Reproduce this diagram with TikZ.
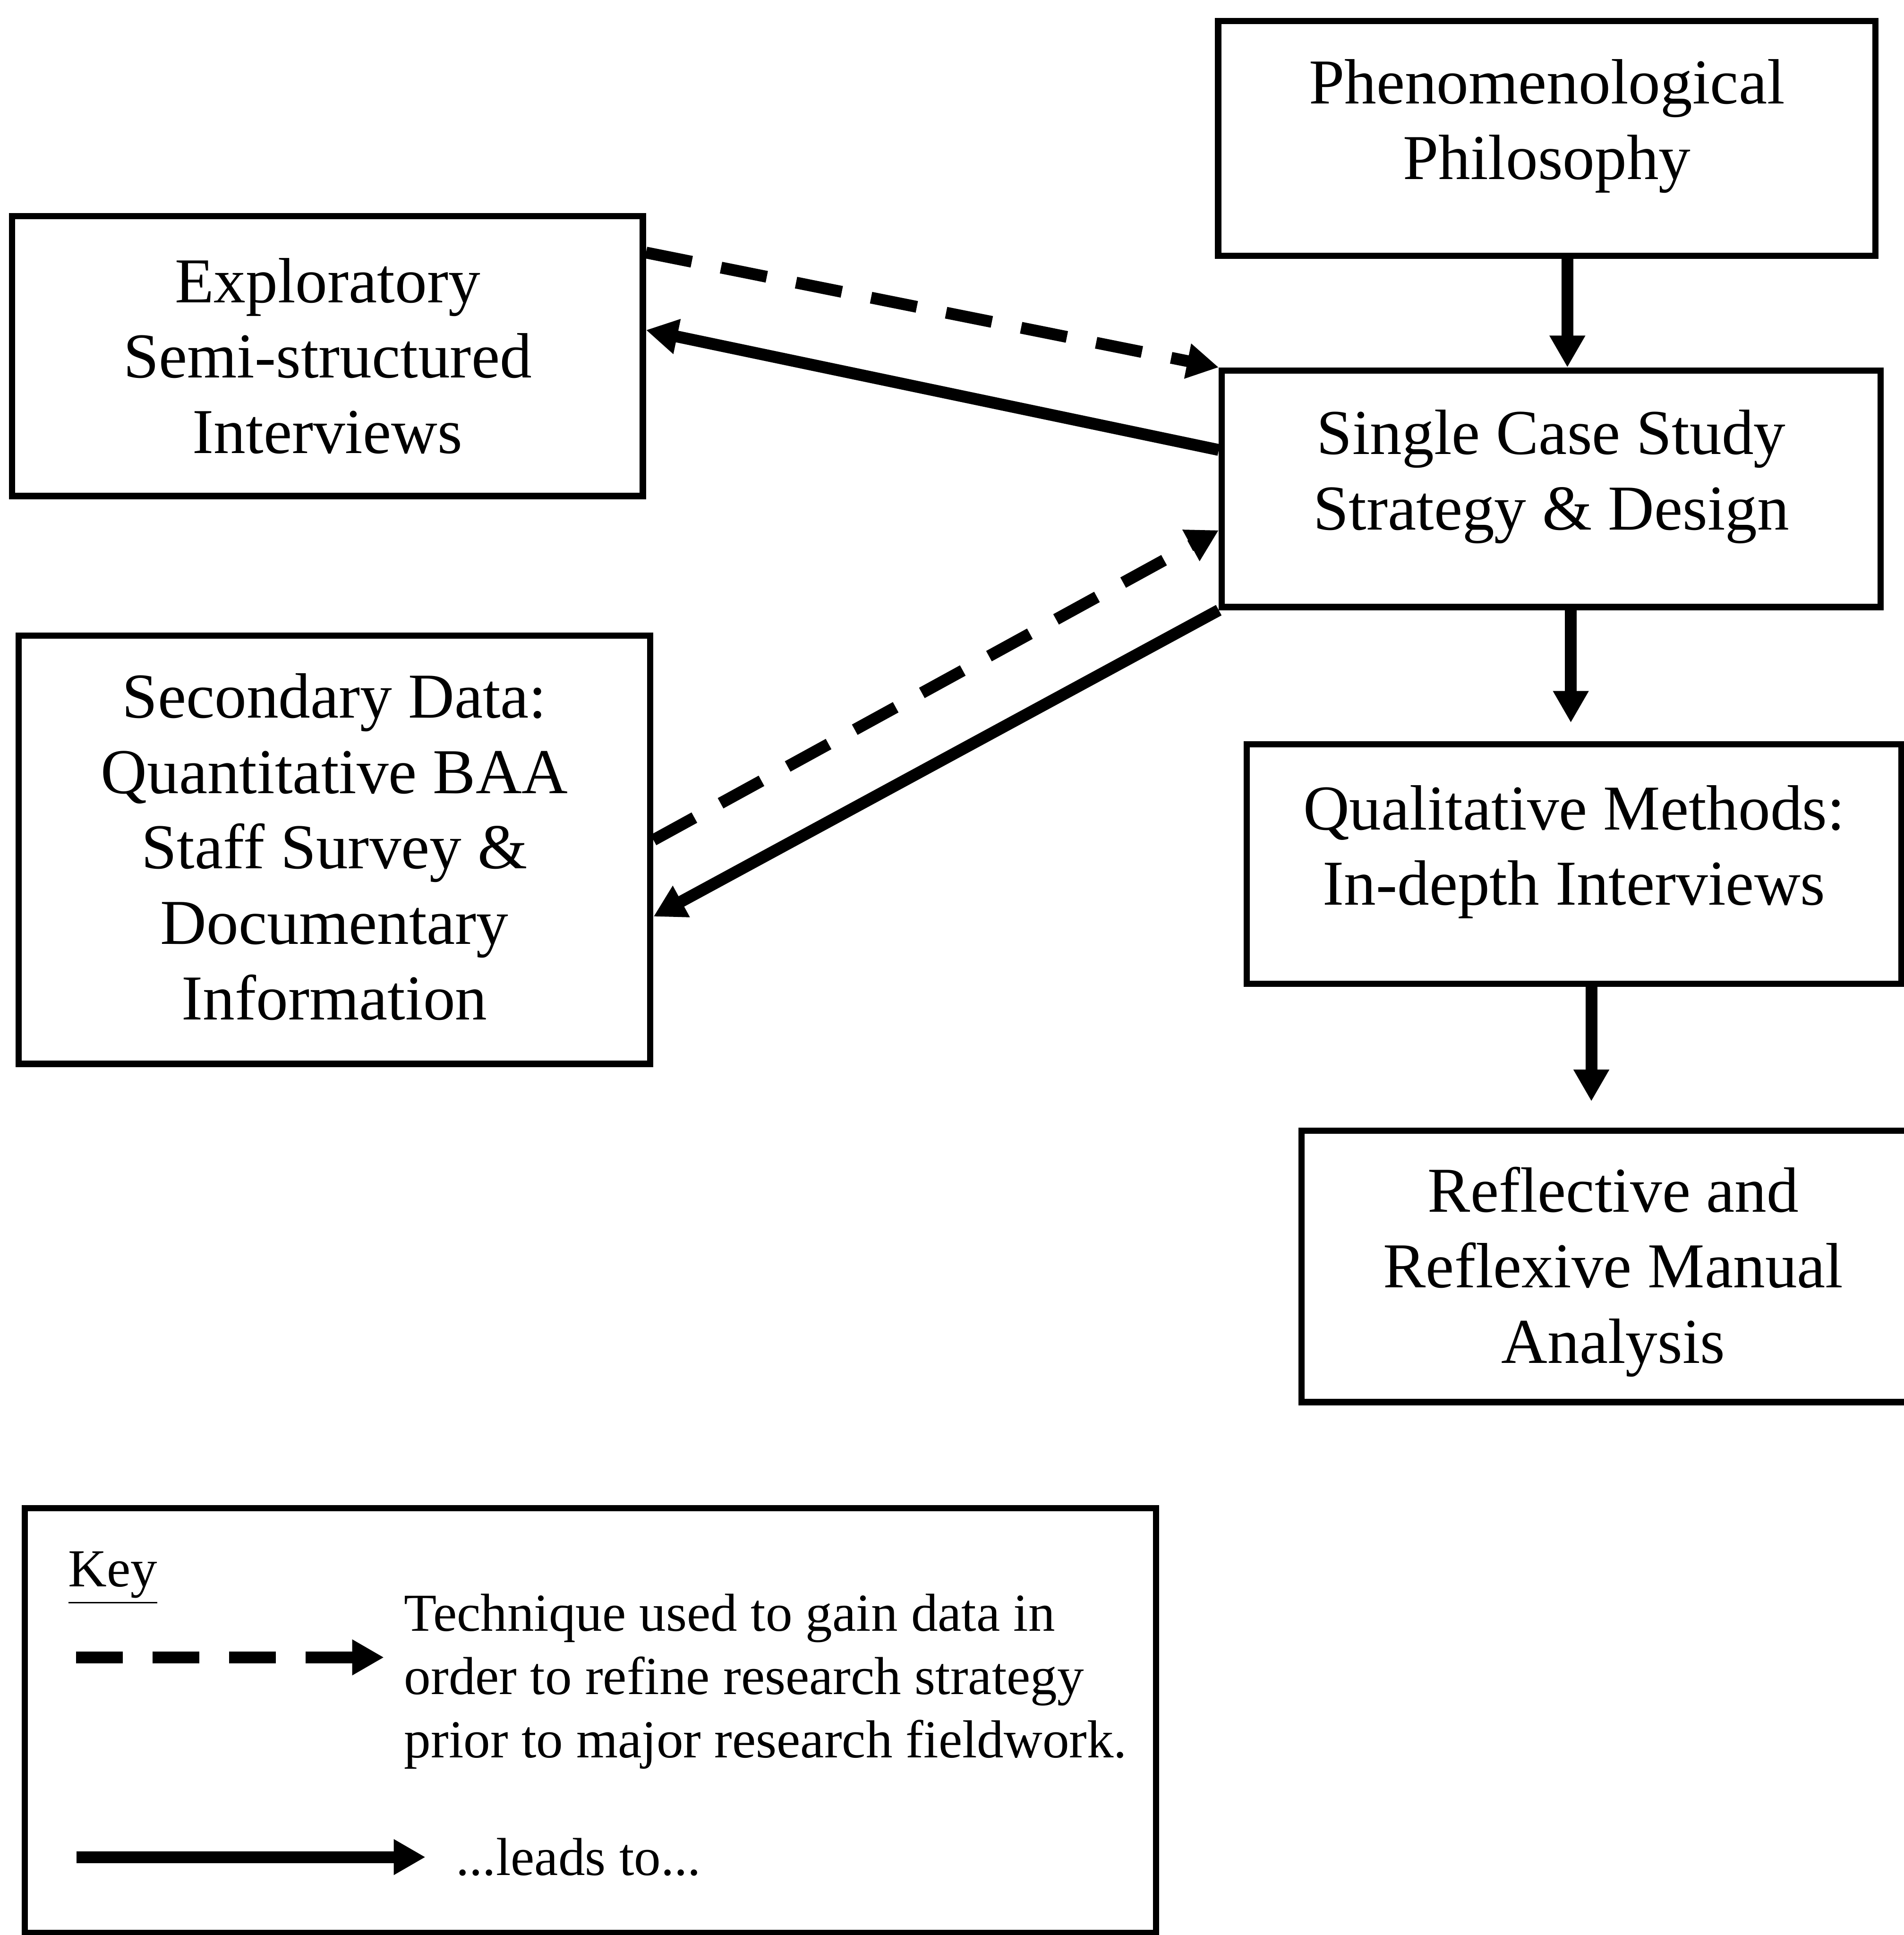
\documentclass[tikz,border=0pt]{standalone}
\usepackage{fontspec}
\setmainfont{Liberation Serif}
\usetikzlibrary{arrows.meta,positioning}

\begin{document}
\begin{tikzpicture}[x=1cm,y=1cm,
    box/.style={draw,line width=1.9pt,inner sep=0pt},
    boxtext/.style={align=center,inner sep=0pt,font=\fontsize{19.5}{23}\selectfont},
    keytext/.style={align=left,inner sep=0pt,font=\fontsize{16.3}{19.3}\selectfont},
    leadsto/.style={line width=3.6pt,-{Triangle[length=0.34cm,width=0.36cm]}},
    gaindata/.style={leadsto,dash pattern=on 0.5cm off 0.32cm}]
  \useasboundingbox (0,0) rectangle (20.405,-20.735);
  \node[box,minimum width=7.045cm,minimum height=2.515cm] (phen) at (16.578,-1.483) {};
  \node[boxtext] (phentext) at ([yshift=0.13cm]phen.center)
       {Phenomenological\\Philosophy};
  \node[box,minimum width=7.06cm,minimum height=2.535cm] (single) at (16.625,-5.2375) {};
  \node[boxtext] (singletext) at ([yshift=0.13cm]single.center)
       {Single Case Study\\Strategy \& Design};
  \node[box,minimum width=7.015cm,minimum height=2.565cm] (qual) at (16.87,-9.26) {};
  \node[boxtext] (qualtext) at ([yshift=0.13cm]qual.center)
       {Qualitative Methods:\\In-depth Interviews};
  \node[box,minimum width=6.68cm,minimum height=2.91cm] (refl) at (17.29,-13.57) {};
  \node[boxtext] (refltext) at ([yshift=-0.06cm]refl.center)
       {Reflective and\\Reflexive Manual\\Analysis};
  \node[box,minimum width=6.76cm,minimum height=3.0cm] (expl) at (3.51,-3.815) {};
  \node[boxtext] (expltext) at (expl.center)
       {Exploratory\\Semi-structured\\Interviews};
  \node[box,minimum width=6.77cm,minimum height=4.59cm] (sec) at (3.585,-9.105) {};
  \node[boxtext] (sectext) at ([yshift=0.03cm]sec.center)
       {Secondary Data:\\Quantitative BAA\\Staff Survey \&\\Documentary\\Information};
  \draw[leadsto] ([xshift=0.22cm]phen.south) -- ([xshift=0.22cm]phen.south |- single.north);
  \draw[leadsto,shorten >=0.2cm] ([xshift=0.21cm]single.south)
       -- ([xshift=0.21cm]single.south |- qual.north);
  \draw[leadsto,shorten >=0.28cm] ([xshift=0.185cm]qual.south)
       -- ([xshift=0.185cm]qual.south |- refl.north);
  \draw[gaindata] ([yshift=-0.425cm]expl.north east) -- (single.north west);
  \draw[leadsto] ([yshift=-0.885cm]single.north west) -- ([yshift=-1.255cm]expl.north east);
  \draw[gaindata] ([yshift=-2.225cm]sec.north east) -- ([yshift=-1.745cm]single.north west);
  \draw[leadsto] (single.south west) -- ([yshift=-3.045cm]sec.north east);
  \node[box,minimum width=12.125cm,minimum height=4.55cm] (key) at (6.3275,-18.435) {};
  \node[keytext,anchor=base west] (keytitle) at (0.725,-17.0)
       {\setlength{\fboxrule}{1.2pt}\underline{Key}};
  \coordinate (gainfrom) at (0.815,-17.76);
  \coordinate (gainto) at (4.115,-17.76);
  \draw[gaindata] (gainfrom) -- (gainto);
  \node[keytext,anchor=west] (gaintext) at (4.325,-18.02)
       {Technique used to gain data in\\order to refine research strategy\\prior to major research fieldwork.};
  \coordinate (leadfrom) at (0.82,-19.9);
  \coordinate (leadto) at (4.56,-19.9);
  \draw[leadsto] (leadfrom) -- (leadto);
  \node[keytext,anchor=west] (leadtext) at (4.88,-19.9) {...leads to...};
\end{tikzpicture}
\end{document}
